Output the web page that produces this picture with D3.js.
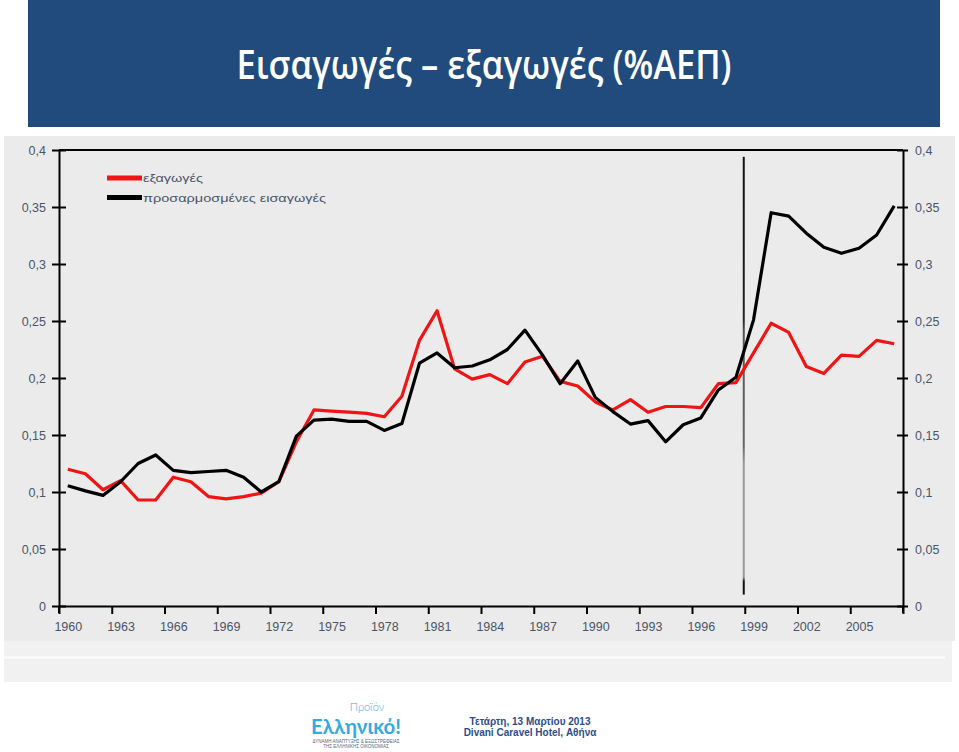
<!DOCTYPE html>
<html>
<head>
<meta charset="utf-8">
<style>
  body { margin: 0; background: #fff; }
  svg { display: block; }
</style>
</head>
<body>
<svg id="slide" width="959" height="752"></svg>
<script src="https://cdn.jsdelivr.net/npm/d3@7"></script>
<script>
// data (share of GDP)
const years = d3.range(1960, 2008);
const exportsShare = [
  0.120, 0.116, 0.102, 0.110, 0.093, 0.093, 0.113, 0.109, 0.096, 0.094,
  0.096, 0.099, 0.109, 0.144, 0.172, 0.171, 0.170, 0.169, 0.166, 0.184,
  0.233, 0.259, 0.208, 0.199, 0.203, 0.195, 0.214, 0.219, 0.197, 0.193,
  0.179, 0.172, 0.181, 0.170, 0.175, 0.175, 0.174, 0.195, 0.196, 0.222,
  0.248, 0.240, 0.210, 0.204, 0.220, 0.219, 0.233, 0.230
];
const importsAdjusted = [
  0.1055, 0.101, 0.097, 0.109, 0.125, 0.1325, 0.119, 0.117, 0.118, 0.119,
  0.113, 0.100, 0.109, 0.149, 0.163, 0.164, 0.162, 0.162, 0.154, 0.160,
  0.213, 0.222, 0.209, 0.2105, 0.216, 0.225, 0.242, 0.220, 0.195, 0.215,
  0.183, 0.1705, 0.1596, 0.1626, 0.144, 0.159, 0.165, 0.1895, 0.2006, 0.251,
  0.345, 0.342, 0.327, 0.3146, 0.3094, 0.3138, 0.3254, 0.351
];
const seriesNames = ['εξαγωγές', 'προσαρμοσμένες εισαγωγές'];
const seriesColors = ['#f01414', '#000000'];
const yTicks = [0, 0.05, 0.1, 0.15, 0.2, 0.25, 0.3, 0.35, 0.4];
const xTicks = d3.range(1960, 2009, 3);
const markerYear = 1999;
const markerSpan = [0.01, 0.394];

const titleText = 'Εισαγωγές – εξαγωγές (%ΑΕΠ)';
const footerLines = ['Τετάρτη, 13 Μαρτίου 2013', 'Divani Caravel Hotel, Αθήνα'];

const svg = d3.select('#slide');

// title banner
svg.append('rect')
  .attr('x', 28).attr('y', 0)
  .attr('width', 912).attr('height', 127)
  .attr('fill', '#214a7d');
svg.append('text')
  .attr('x', 484).attr('y', 79)
  .attr('text-anchor', 'middle')
  .attr('fill', '#fff')
  .attr('font-family', 'Open Sans, Noto Sans, sans-serif')
  .attr('font-weight', 600)
  .attr('font-size', 40)
  .attr('textLength', 495)
  .attr('lengthAdjust', 'spacingAndGlyphs')
  .text(titleText);

// chart picture background
svg.append('rect')
  .attr('x', 4).attr('y', 136)
  .attr('width', 951).attr('height', 505)
  .attr('fill', '#ebebeb');
svg.append('rect')
  .attr('x', 4).attr('y', 641)
  .attr('width', 948).attr('height', 41)
  .attr('fill', '#f1f1f1');
svg.append('line')
  .attr('x1', 0).attr('x2', 945)
  .attr('y1', 657.5).attr('y2', 657.5)
  .attr('stroke', '#fdfdfd').attr('stroke-width', 2);

const x = d3.scaleLinear().domain([1960, 2008]).range([59, 903]);
const y = d3.scaleLinear().domain([0, 0.4]).range([606, 150]);
const fmt = d => String(d).replace('.', ',');

const chart = svg.append('g');
const labelColor = '#4a5668';

// top frame
chart.append('line')
  .attr('x1', x(1960)).attr('x2', x(2008))
  .attr('y1', y(0.4)).attr('y2', y(0.4))
  .attr('stroke', '#000').attr('stroke-width', 2);

const leftAxis = chart.append('g')
  .attr('transform', `translate(${x(1960)},0)`)
  .call(d3.axisLeft(y).tickValues(yTicks).tickFormat(fmt).tickSize(7).tickSizeOuter(0).tickPadding(6));
leftAxis.selectAll('.tick line').attr('x1', 7);

const rightAxis = chart.append('g')
  .attr('transform', `translate(${x(2008)},0)`)
  .call(d3.axisRight(y).tickValues(yTicks).tickFormat(fmt).tickSize(5).tickSizeOuter(0).tickPadding(7));
rightAxis.selectAll('.tick line').attr('x1', -6);

const bottomAxis = chart.append('g')
  .attr('transform', `translate(0,${y(0)})`)
  .call(d3.axisBottom(x).tickValues(xTicks).tickFormat(d => d < 2008 ? d : '').tickSize(8).tickSizeOuter(0).tickPadding(8));
// labels sit in the middle of each year slot
bottomAxis.selectAll('.tick text').attr('x', x(1960.5) - x(1960));

[leftAxis, rightAxis, bottomAxis].forEach(g => {
  g.select('.domain').attr('stroke', '#000').attr('stroke-width', 2);
  g.selectAll('.tick line').attr('stroke', '#000').attr('stroke-width', 2);
  g.selectAll('.tick text')
    .attr('fill', labelColor)
    .attr('font-family', 'Liberation Sans, Arial, sans-serif')
    .attr('font-size', 12.5);
});
// axis lines run a bit past zero, like the original
leftAxis.append('line').attr('x1', 0).attr('x2', 0).attr('y1', y(0)).attr('y2', y(0) + 7)
  .attr('stroke', '#000').attr('stroke-width', 2);
rightAxis.append('line').attr('x1', 0).attr('x2', 0).attr('y1', y(0)).attr('y2', y(0) + 7)
  .attr('stroke', '#000').attr('stroke-width', 2);

// vertical marker at 1999
const grad = svg.append('defs').append('linearGradient')
  .attr('id', 'markerGrad').attr('x1', 0).attr('x2', 0).attr('y1', 0).attr('y2', 1);
grad.append('stop').attr('offset', '0%').attr('stop-color', '#111');
grad.append('stop').attr('offset', '37%').attr('stop-color', '#222');
grad.append('stop').attr('offset', '40%').attr('stop-color', '#555');
grad.append('stop').attr('offset', '66%').attr('stop-color', '#666');
grad.append('stop').attr('offset', '70%').attr('stop-color', '#999');
grad.append('stop').attr('offset', '96%').attr('stop-color', '#999');
grad.append('stop').attr('offset', '97%').attr('stop-color', '#111');
chart.append('rect')
  .attr('x', x(markerYear) - 2)
  .attr('y', y(markerSpan[1]))
  .attr('width', 2)
  .attr('height', y(markerSpan[0]) - y(markerSpan[1]))
  .attr('fill', 'url(#markerGrad)');

// series lines
const line = d3.line()
  .x((d, i) => x(years[i] + 0.5))
  .y(d => y(d));

[exportsShare, importsAdjusted].forEach((vals, k) => {
  chart.append('path')
    .datum(vals)
    .attr('fill', 'none')
    .attr('stroke', seriesColors[k])
    .attr('stroke-width', 3.2)
    .attr('stroke-linejoin', 'round')
    .attr('d', line);
});

// legend
const legend = chart.append('g').attr('transform', 'translate(107,178)');
seriesNames.forEach((name, i) => {
  const row = legend.append('g').attr('transform', `translate(0,${i * 19.5})`);
  row.append('line')
    .attr('x1', 0).attr('x2', 35)
    .attr('stroke', seriesColors[i]).attr('stroke-width', 5);
  row.append('text')
    .attr('x', 36).attr('y', 4)
    .attr('fill', labelColor)
    .attr('font-family', 'Liberation Sans, Arial, sans-serif')
    .attr('font-size', 11)
    .attr('textLength', i === 0 ? 60 : 183)
    .attr('lengthAdjust', 'spacingAndGlyphs')
    .text(name);
});

// footer: logo and event info
const logo = svg.append('g').attr('transform', 'translate(356,0)');
logo.append('text')
  .attr('x', 11).attr('y', 711)
  .attr('text-anchor', 'middle')
  .attr('fill', '#4aa8d8')
  .attr('font-family', 'Lato, Open Sans, sans-serif')
  .attr('font-weight', 300)
  .attr('font-size', 11)
  .text('Προϊόν');
logo.append('text')
  .attr('x', 0).attr('y', 734)
  .attr('text-anchor', 'middle')
  .attr('fill', '#35a9e0')
  .attr('font-family', 'Lato, Open Sans, sans-serif')
  .attr('font-weight', 700)
  .attr('font-size', 20)
  .attr('textLength', 90)
  .attr('lengthAdjust', 'spacingAndGlyphs')
  .text('Ελληνικό!');
['ΔΥΝΑΜΗ ΑΝΑΠΤΥΞΗΣ & ΕΞΩΣΤΡΕΦΕΙΑΣ', 'ΤΗΣ ΕΛΛΗΝΙΚΗΣ ΟΙΚΟΝΟΜΙΑΣ'].forEach((t, i) => {
  logo.append('text')
    .attr('x', 0).attr('y', 743 + i * 5)
    .attr('text-anchor', 'middle')
    .attr('fill', '#556677')
    .attr('font-family', 'Liberation Sans, Arial, sans-serif')
    .attr('font-size', 4.5)
    .text(t);
});

footerLines.forEach((t, i) => {
  svg.append('text')
    .attr('x', 530).attr('y', 725 + i * 11)
    .attr('text-anchor', 'middle')
    .attr('fill', '#2b4d8c')
    .attr('font-family', 'Liberation Sans, Arial, sans-serif')
    .attr('font-weight', 700)
    .attr('font-size', 10)
    .text(t);
});
</script>
</body>
</html>
